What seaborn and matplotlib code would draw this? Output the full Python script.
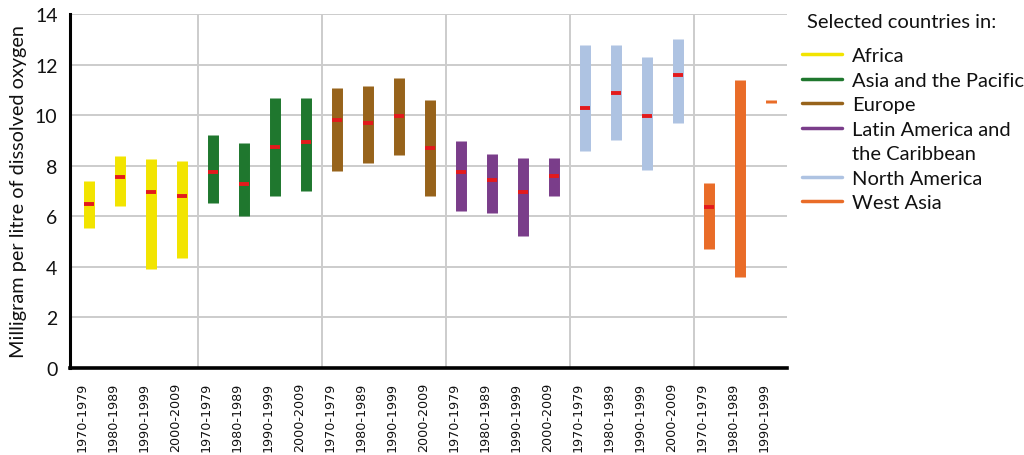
import numpy as np
import pandas as pd
import matplotlib
matplotlib.use("Agg")
import matplotlib.pyplot as plt
import matplotlib.transforms as mtransforms
from matplotlib.lines import Line2D
import seaborn as sns

# ---- data ----
regions = ["Africa", "Asia and the Pacific", "Europe",
           "Latin America and\nthe Caribbean", "North America", "West Asia"]
region_colors = ["#f2e400", "#1f772e", "#97631b", "#7a3d8a", "#aec3e2", "#e96c28"]
decades = ["1970-1979", "1980-1989", "1990-1999", "2000-2009"]

bar_region = [0]*4 + [1]*4 + [2]*4 + [3]*4 + [4]*4 + [5]*3
bar_decade = decades*5 + decades[:3]
min_vals = [5.54, 6.41, 3.93, 4.35,
            6.54, 6.01, 6.80, 7.00,
            7.79, 8.11, 8.42, 6.80,
            6.21, 6.13, 5.22, 6.80,
            8.58, 9.02, 7.83, 9.69,
            4.71, 3.60, 10.49]
max_vals = [7.39, 8.38, 8.26, 8.18,
            9.21, 8.90, 10.68, 10.68,
            11.07, 11.15, 11.47, 10.60,
            8.98, 8.46, 8.30, 8.30,
            12.77, 12.77, 12.30, 13.01,
            7.32, 11.39, 10.59]
mean_vals = [6.50, 7.57, 6.97, 6.81,
             7.75, 7.28, 8.75, 8.94,
             9.81, 9.70, 9.96, 8.70,
             7.75, 7.43, 6.96, 7.59,
             10.28, 10.87, 9.96, 11.59,
             6.37, np.nan, np.nan]

# ---- tidy tables ----
n = len(min_vals)
pos = np.arange(n)
rng = pd.DataFrame({
    "pos": np.concatenate([pos, pos]),
    "value": np.concatenate([min_vals, max_vals]),
    "bar": np.concatenate([pos, pos]),
    "region": [regions[r] for r in bar_region] * 2,
})
means = pd.DataFrame({"pos": pos, "mean": mean_vals}).dropna()

# ---- figure ----
sns.set_theme(style="white")
plt.rcParams["font.family"] = ["Lato", "DejaVu Sans"]

fig = plt.figure(figsize=(10.24, 4.56), dpi=100)
ax = fig.add_axes([70/1024, 1-369/456, (787-70)/1024, (369-15)/456])

palette = dict(zip(regions, region_colors))
sns.lineplot(data=rng, x="pos", y="value", hue="region", units="bar",
             estimator=None, sort=False, palette=palette, linewidth=7.9,
             solid_capstyle="butt", legend=False, ax=ax, zorder=3)
sns.scatterplot(data=means, x="pos", y="mean", marker="_", s=42,
                linewidth=2.8, color="#e31a1c", ax=ax, zorder=4, legend=False)

ax.set_xlim(-0.62, n - 0.5)
ax.set_ylim(0, 14)
ax.set_yticks(np.arange(0, 15, 2))
ax.set_xticks(pos)
ax.set_xticklabels(bar_decade, rotation=90, fontsize=9.2,
                   family=["DejaVu Sans"], color="#111111")
ax.set_xticks([3.5, 7.5, 11.5, 15.5, 19.5], minor=True)
ax.tick_params(axis="x", which="major", length=0, pad=10)
ax.tick_params(axis="x", which="minor", length=5, width=1.3, color="#cccccc",
               direction="out")
ax.tick_params(axis="y", length=0, pad=9, labelsize=14, labelcolor="#111111")
# shift x tick labels slightly left
off = mtransforms.ScaledTranslation(-7/100, 0, fig.dpi_scale_trans)
for lab in ax.get_xticklabels():
    lab.set_transform(lab.get_transform() + off)

ax.grid(axis="y", which="major", color="#cccccc", linewidth=1.4)
ax.grid(axis="x", which="minor", color="#cccccc", linewidth=1.4)
ax.grid(axis="x", which="major", visible=False)
ax.set_axisbelow(True)

for s in ["top", "right"]:
    ax.spines[s].set_visible(False)
ax.spines["left"].set_linewidth(2.2)
ax.spines["bottom"].set_linewidth(2.6)
ax.spines["left"].set_color("black")
ax.spines["bottom"].set_color("black")

ax.set_xlabel("")
ax.set_ylabel("Milligram per litre of dissolved oxygen", fontsize=14.3,
              color="#111111", labelpad=6)

fig.text(807/1024, 1-22/456, "Selected countries in:", fontsize=14.5,
         color="#111111", ha="left", va="center")

# legend rows: multi-line labels become one row per line, handle on the first
handles, labels = [], []
for name, col in zip(regions, region_colors):
    parts = name.split("\n")
    handles.append(Line2D([0], [0], color=col, linewidth=2.5))
    labels.append(parts[0])
    for extra in parts[1:]:
        handles.append(Line2D([0], [0], color="none", linewidth=0))
        labels.append(extra)
leg = fig.legend(handles, labels, loc="upper left",
                 bbox_to_anchor=(802/1024, 1-48/456), frameon=False,
                 fontsize=14.5, handlelength=2.0, handletextpad=0.5,
                 labelspacing=0.37, borderaxespad=0, borderpad=0)
for t in leg.get_texts():
    t.set_color("#111111")

fig.savefig("out.png", dpi=100)
